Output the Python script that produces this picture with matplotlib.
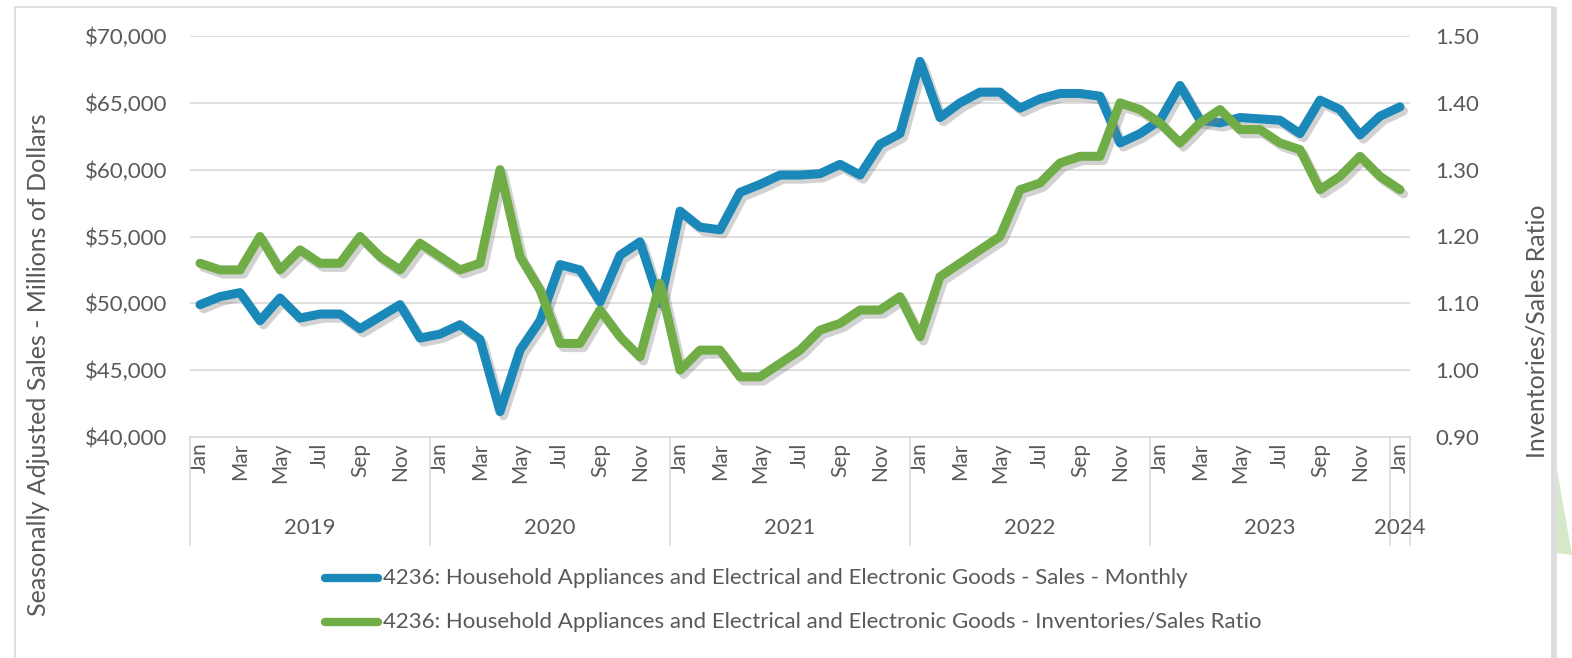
import matplotlib.pyplot as plt
import matplotlib.patheffects as pe
from matplotlib.lines import Line2D
from matplotlib.patches import Rectangle, Polygon
from matplotlib.ticker import FuncFormatter, MultipleLocator

plt.rcParams['font.family'] = ['Lato', 'DejaVu Sans']

years = ["2019", "2020", "2021", "2022", "2023", "2024"]
month_names = ["Jan", "Feb", "Mar", "Apr", "May", "Jun",
               "Jul", "Aug", "Sep", "Oct", "Nov", "Dec"]

# Jan 2019 .. Jan 2024, millions of dollars
sales = [49900, 50500, 50800, 48700, 50400, 48900, 49200, 49200, 48100, 49000, 49900, 47400,
         47700, 48400, 47300, 41900, 46500, 48700, 52900, 52500, 50100, 53600, 54600, 50000,
         56900, 55700, 55500, 58300, 58900, 59600, 59600, 59700, 60400, 59600, 61900, 62700,
         68100, 63900, 65000, 65800, 65800, 64600, 65300, 65700, 65700, 65500, 62000, 62700,
         63700, 66300, 63700, 63500, 63900, 63800, 63700, 62700, 65200, 64500, 62600, 64000,
         64700]

inv_ratio = [1.16, 1.15, 1.15, 1.20, 1.15, 1.18, 1.16, 1.16, 1.20, 1.17, 1.15, 1.19,
             1.17, 1.15, 1.16, 1.30, 1.17, 1.12, 1.04, 1.04, 1.09, 1.05, 1.02, 1.13,
             1.00, 1.03, 1.03, 0.99, 0.99, 1.01, 1.03, 1.06, 1.07, 1.09, 1.09, 1.11,
             1.05, 1.14, 1.16, 1.18, 1.20, 1.27, 1.28, 1.31, 1.32, 1.32, 1.40, 1.39,
             1.37, 1.34, 1.37, 1.39, 1.36, 1.36, 1.34, 1.33, 1.27, 1.29, 1.32, 1.29,
             1.27]

sales_label = "4236: Household Appliances and Electrical and Electronic Goods - Sales - Monthly"
ratio_label = "4236: Household Appliances and Electrical and Electronic Goods - Inventories/Sales Ratio"

BLUE = "#1a88b9"
GREEN = "#70ad47"
TXT = "#595959"
GRID = "#d9d9d9"

W, H = 1572, 658
fig = plt.figure(figsize=(W / 100, H / 100), dpi=100)

# chart frame with a soft shadow on the right
fig.add_artist(Rectangle((1552 / W, 0), 5 / W, 651 / H, transform=fig.transFigure,
                         facecolor="#c8c8c8", edgecolor="none", alpha=0.6))
fig.add_artist(Rectangle((15 / W, -0.01), 1537 / W, 1.01 - 7 / H, transform=fig.transFigure,
                         facecolor="none", edgecolor=GRID, linewidth=1.2))
fig.add_artist(Polygon([(1557 / W, 1 - 470 / H), (1572 / W, 1 - 555 / H), (1557 / W, 1 - 553 / H)],
                       closed=True, transform=fig.transFigure, facecolor="#d5e8c8",
                       edgecolor="none"))

left, right, top, bottom = 190, 1410, 36, 437
ax = fig.add_axes([left / W, 1 - bottom / H, (right - left) / W, (bottom - top) / H])
ax2 = ax.twinx()

n = len(sales)
x = list(range(n))
shadow = [pe.SimpleLineShadow(offset=(2.5, -3), shadow_color="#7f7f7f", alpha=0.35),
          pe.Normal()]

ax.plot(x, sales, color=BLUE, linewidth=6.5, solid_joinstyle="round",
        solid_capstyle="round", path_effects=shadow, zorder=3)
ax2.plot(x, inv_ratio, color=GREEN, linewidth=6.5, solid_joinstyle="round",
         solid_capstyle="round", path_effects=shadow, zorder=3)

ax.set_xlim(-0.5, n - 0.5)
ax.set_ylim(40000, 70000)
ax2.set_ylim(0.9, 1.5)
ax.yaxis.set_major_locator(MultipleLocator(5000))
ax2.yaxis.set_major_locator(MultipleLocator(0.1))
ax.yaxis.set_major_formatter(FuncFormatter(lambda v, p: f"${v:,.0f}"))
ax2.yaxis.set_major_formatter(FuncFormatter(lambda v, p: f"{v:.2f}"))
ax.grid(axis="y", color=GRID, linewidth=1.2)
ax.set_axisbelow(True)

for a in (ax, ax2):
    for s in a.spines.values():
        s.set_visible(False)
ax.spines["bottom"].set_visible(True)
ax.spines["bottom"].set_color(GRID)
ax.spines["bottom"].set_linewidth(1.2)

ax.tick_params(axis="y", length=0, pad=16, labelsize=16, labelcolor=TXT)
ax2.tick_params(axis="y", length=0, pad=18, labelsize=16, labelcolor=TXT)

# month labels, every second month
ticks = x[::2]
ax.set_xticks(ticks)
ax.set_xticklabels([month_names[i % 12] for i in ticks], rotation=90,
                   fontsize=15, color=TXT)
ax.tick_params(axis="x", length=0, pad=4)

# year row and separators
sep_y = -(545 - bottom) / (bottom - top)
bounds = [-0.5 + 12 * k for k in range(len(years))] + [n - 0.5]
for b in bounds:
    ax.plot([b, b], [0, sep_y], transform=ax.get_xaxis_transform(), color=GRID,
            linewidth=1.2, clip_on=False)
year_y = -(528 - bottom) / (bottom - top)
for k, yr in enumerate(years):
    lo, hi = bounds[k], bounds[k + 1]
    ax.text((lo + hi) / 2, year_y, yr, transform=ax.get_xaxis_transform(),
            ha="center", va="center", fontsize=16, color=TXT)

ax.set_ylabel("Seasonally Adjusted Sales - Millions of Dollars", fontsize=18,
              color=TXT)
ax.yaxis.set_label_coords(-(left - 50) / (right - left), 0.5 - (365 - (top + bottom) / 2) / (bottom - top))
ax2.set_ylabel("Inventories/Sales Ratio", fontsize=18, color=TXT)
ax2.yaxis.set_label_coords((1525 - left) / (right - left), 0.5 - (331 - (top + bottom) / 2) / (bottom - top))

# legend, stacked entries
for ypix, col, lab in [(578, BLUE, sales_label), (622, GREEN, ratio_label)]:
    fig.add_artist(Line2D([325 / W, 378 / W], [1 - ypix / H] * 2, transform=fig.transFigure,
                          color=col, linewidth=6, solid_capstyle="round"))
    fig.text(383 / W, 1 - ypix / H, lab, ha="left", va="center", fontsize=16, color=TXT)

fig.savefig("out.png", dpi=100, facecolor="white")
